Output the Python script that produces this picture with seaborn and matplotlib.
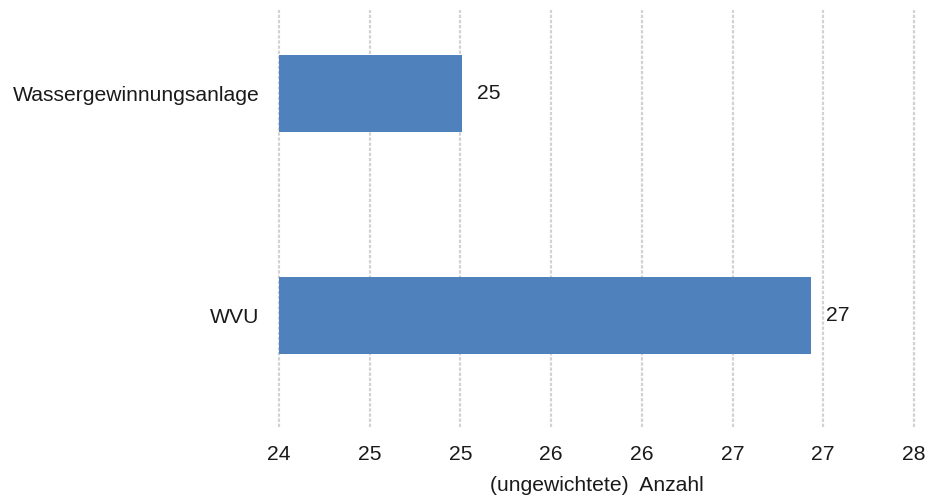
import matplotlib
matplotlib.use("Agg")
import matplotlib.pyplot as plt
import numpy as np
import pandas as pd
import seaborn as sns
from matplotlib.ticker import FuncFormatter

# data
categories = ["Wassergewinnungsanlage", "WVU"]
values = [25.15, 27.35]
x_min, x_max = 24, 28
n_ticks = 8

bar_color = "#4f81bd"
grid_color = "#d2d2d2"
text_color = "#1a1a1a"
fs = 15.2

sns.set_style("white")
plt.rcParams['font.family'] = ['Liberation Sans', 'DejaVu Sans']
plt.rcParams['font.size'] = fs

df = pd.DataFrame({"Kategorie": categories, "Anzahl": values})

fig = plt.figure(figsize=(9.28, 4.97), dpi=100)
ax = fig.add_axes([0.3006, 0.1408, 0.6843, 0.8391])

sns.barplot(data=df, y="Kategorie", x="Anzahl", orient="h", color=bar_color,
            saturation=1, width=0.347, ax=ax, linewidth=0)

ax.set_xlim(x_min, x_max)
ax.set_ylim(1.502, -0.376)
ax.set_xticks(np.linspace(x_min, x_max, n_ticks))
ax.xaxis.set_major_formatter(FuncFormatter(lambda v, p: f"{v:.0f}"))

ax.xaxis.grid(True, color=grid_color, linestyle=(0, (1.5, 0.8)), linewidth=1.6)
ax.yaxis.grid(False)
for gl in ax.get_xgridlines():
    gl.set_clip_on(False)
ax.set_axisbelow(True)
for s in ax.spines.values():
    s.set_visible(False)

ax.tick_params(axis='x', length=0, pad=13, labelsize=fs, colors=text_color)
ax.tick_params(axis='y', length=0, pad=14, labelsize=fs, colors=text_color)
ax.set_ylabel("")
ax.set_xlabel("(ungewichtete)  Anzahl", fontsize=fs, labelpad=8.5, color=text_color)

for c in ax.containers:
    ax.bar_label(c, labels=[f"{v:.0f}" for v in values], padding=11,
                 fontsize=fs, color=text_color)

fig.savefig("out.png", dpi=100)
